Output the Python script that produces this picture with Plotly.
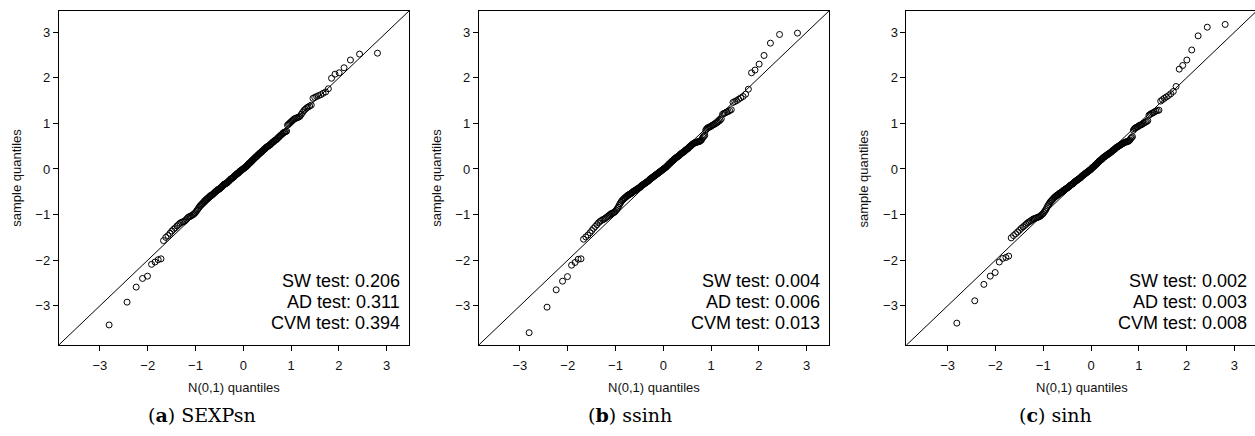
import plotly.graph_objects as go

# ---------------- data ----------------
# theoretical N(0,1) quantiles (n = 200), shared by all three panels
n01_quantiles = [
    -2.807, -2.432, -2.241, -2.108, -2.005, -1.919, -1.846, -1.780, -1.722, -1.669,
    -1.621, -1.576, -1.534, -1.495, -1.458, -1.422, -1.388, -1.356, -1.326, -1.296,
    -1.267, -1.240, -1.213, -1.188, -1.163, -1.139, -1.115, -1.092, -1.069, -1.047,
    -1.026, -1.005, -0.984, -0.964, -0.944, -0.925, -0.906, -0.887, -0.868, -0.850,
    -0.832, -0.815, -0.798, -0.780, -0.764, -0.747, -0.731, -0.714, -0.698, -0.683,
    -0.667, -0.651, -0.636, -0.621, -0.606, -0.590, -0.576, -0.561, -0.546, -0.532,
    -0.517, -0.503, -0.489, -0.475, -0.461, -0.447, -0.433, -0.419, -0.405, -0.392,
    -0.378, -0.365, -0.351, -0.338, -0.324, -0.311, -0.298, -0.285, -0.272, -0.259,
    -0.246, -0.233, -0.220, -0.207, -0.195, -0.182, -0.169, -0.157, -0.144, -0.132,
    -0.119, -0.107, -0.094, -0.082, -0.069, -0.056, -0.044, -0.031, -0.019, -0.006,
    0.006, 0.019, 0.031, 0.044, 0.056, 0.069, 0.082, 0.094, 0.107, 0.119,
    0.132, 0.144, 0.157, 0.169, 0.182, 0.195, 0.207, 0.220, 0.233, 0.246,
    0.259, 0.272, 0.285, 0.298, 0.311, 0.324, 0.338, 0.351, 0.365, 0.378,
    0.392, 0.405, 0.419, 0.433, 0.447, 0.461, 0.475, 0.489, 0.503, 0.517,
    0.532, 0.546, 0.561, 0.576, 0.590, 0.606, 0.621, 0.636, 0.651, 0.667,
    0.683, 0.698, 0.714, 0.731, 0.747, 0.764, 0.780, 0.798, 0.815, 0.832,
    0.850, 0.868, 0.887, 0.906, 0.925, 0.944, 0.964, 0.984, 1.005, 1.026,
    1.047, 1.069, 1.092, 1.115, 1.139, 1.163, 1.188, 1.213, 1.240, 1.267,
    1.296, 1.326, 1.356, 1.388, 1.422, 1.458, 1.495, 1.534, 1.576, 1.621,
    1.669, 1.722, 1.780, 1.846, 1.919, 2.005, 2.108, 2.241, 2.432, 2.807,
]

sexpsn_sample = [
    -3.42, -2.92, -2.59, -2.40, -2.35, -2.09, -2.04, -1.99, -1.97, -1.57,
    -1.50, -1.46, -1.41, -1.36, -1.32, -1.29, -1.25, -1.22, -1.19, -1.17,
    -1.16, -1.15, -1.13, -1.10, -1.07, -1.05, -1.04, -1.03, -1.01, -1.00,
    -0.98, -0.96, -0.93, -0.90, -0.87, -0.84, -0.81, -0.79, -0.77, -0.75,
    -0.73, -0.71, -0.69, -0.67, -0.66, -0.64, -0.63, -0.61, -0.60, -0.58,
    -0.58, -0.57, -0.55, -0.54, -0.52, -0.51, -0.49, -0.48, -0.47, -0.45,
    -0.45, -0.44, -0.43, -0.41, -0.40, -0.39, -0.37, -0.36, -0.34, -0.33,
    -0.33, -0.32, -0.31, -0.30, -0.29, -0.27, -0.26, -0.25, -0.23, -0.22,
    -0.21, -0.20, -0.19, -0.18, -0.17, -0.15, -0.14, -0.13, -0.12, -0.10,
    -0.10, -0.09, -0.08, -0.06, -0.05, -0.04, -0.03, -0.02, -0.01, 0.00,
    0.01, 0.02, 0.03, 0.04, 0.05, 0.06, 0.08, 0.09, 0.10, 0.12,
    0.13, 0.14, 0.15, 0.17, 0.18, 0.19, 0.21, 0.22, 0.23, 0.25,
    0.26, 0.27, 0.28, 0.30, 0.31, 0.32, 0.34, 0.35, 0.36, 0.37,
    0.39, 0.40, 0.41, 0.43, 0.44, 0.45, 0.47, 0.48, 0.49, 0.50,
    0.51, 0.52, 0.53, 0.55, 0.56, 0.58, 0.59, 0.60, 0.62, 0.63,
    0.64, 0.65, 0.67, 0.69, 0.70, 0.72, 0.74, 0.75, 0.77, 0.79,
    0.80, 0.81, 0.82, 0.83, 0.96, 0.98, 1.00, 1.02, 1.04, 1.06,
    1.08, 1.10, 1.11, 1.12, 1.13, 1.14, 1.16, 1.20, 1.24, 1.28,
    1.31, 1.34, 1.36, 1.38, 1.40, 1.55, 1.57, 1.59, 1.61, 1.63,
    1.66, 1.69, 1.76, 1.99, 2.08, 2.11, 2.22, 2.39, 2.52, 2.54,
]

ssinh_sample = [
    -3.59, -3.03, -2.65, -2.46, -2.36, -2.11, -2.05, -1.98, -1.97, -1.54,
    -1.49, -1.45, -1.40, -1.35, -1.30, -1.26, -1.22, -1.18, -1.15, -1.13,
    -1.11, -1.10, -1.08, -1.06, -1.04, -1.02, -1.00, -0.98, -0.97, -0.96,
    -0.95, -0.93, -0.90, -0.87, -0.84, -0.80, -0.76, -0.73, -0.70, -0.68,
    -0.66, -0.64, -0.63, -0.61, -0.60, -0.58, -0.57, -0.56, -0.55, -0.54,
    -0.53, -0.52, -0.50, -0.49, -0.48, -0.47, -0.46, -0.45, -0.44, -0.43,
    -0.42, -0.41, -0.40, -0.39, -0.37, -0.36, -0.35, -0.34, -0.33, -0.32,
    -0.31, -0.30, -0.29, -0.28, -0.27, -0.26, -0.25, -0.23, -0.22, -0.21,
    -0.20, -0.19, -0.18, -0.17, -0.16, -0.15, -0.14, -0.13, -0.12, -0.11,
    -0.10, -0.09, -0.08, -0.07, -0.06, -0.05, -0.04, -0.03, -0.02, -0.01,
    0.00, 0.01, 0.02, 0.03, 0.04, 0.05, 0.07, 0.08, 0.09, 0.11,
    0.12, 0.13, 0.14, 0.16, 0.17, 0.18, 0.19, 0.20, 0.22, 0.23,
    0.24, 0.25, 0.26, 0.27, 0.28, 0.29, 0.30, 0.32, 0.33, 0.34,
    0.35, 0.36, 0.37, 0.38, 0.39, 0.41, 0.42, 0.43, 0.44, 0.45,
    0.47, 0.48, 0.50, 0.51, 0.52, 0.54, 0.55, 0.56, 0.57, 0.58,
    0.58, 0.59, 0.59, 0.60, 0.60, 0.61, 0.62, 0.64, 0.67, 0.70,
    0.72, 0.74, 0.85, 0.88, 0.90, 0.91, 0.92, 0.93, 0.94, 0.96,
    0.97, 0.98, 1.00, 1.01, 1.03, 1.05, 1.07, 1.10, 1.20, 1.22,
    1.23, 1.25, 1.26, 1.28, 1.30, 1.46, 1.48, 1.50, 1.53, 1.56,
    1.59, 1.64, 1.75, 2.11, 2.17, 2.30, 2.49, 2.76, 2.95, 2.98,
]

sinh_sample = [
    -3.38, -2.89, -2.53, -2.35, -2.27, -2.04, -1.96, -1.94, -1.91, -1.51,
    -1.46, -1.42, -1.38, -1.34, -1.30, -1.27, -1.24, -1.21, -1.18, -1.16,
    -1.14, -1.12, -1.10, -1.09, -1.08, -1.07, -1.06, -1.05, -1.04, -1.02,
    -1.00, -0.98, -0.95, -0.92, -0.89, -0.85, -0.81, -0.78, -0.75, -0.72,
    -0.70, -0.68, -0.66, -0.64, -0.62, -0.61, -0.59, -0.58, -0.57, -0.56,
    -0.54, -0.53, -0.52, -0.51, -0.50, -0.49, -0.47, -0.46, -0.45, -0.44,
    -0.43, -0.42, -0.41, -0.40, -0.39, -0.37, -0.36, -0.35, -0.34, -0.33,
    -0.32, -0.31, -0.29, -0.28, -0.27, -0.26, -0.25, -0.24, -0.23, -0.22,
    -0.21, -0.20, -0.19, -0.18, -0.16, -0.15, -0.14, -0.13, -0.12, -0.11,
    -0.10, -0.09, -0.08, -0.07, -0.06, -0.05, -0.04, -0.03, -0.02, -0.01,
    0.00, 0.02, 0.03, 0.04, 0.05, 0.06, 0.08, 0.09, 0.10, 0.11,
    0.13, 0.14, 0.15, 0.17, 0.18, 0.19, 0.20, 0.21, 0.22, 0.24,
    0.25, 0.26, 0.27, 0.28, 0.29, 0.30, 0.31, 0.32, 0.33, 0.34,
    0.35, 0.36, 0.37, 0.38, 0.40, 0.41, 0.42, 0.43, 0.44, 0.46,
    0.47, 0.48, 0.49, 0.50, 0.51, 0.52, 0.53, 0.54, 0.55, 0.56,
    0.57, 0.58, 0.59, 0.59, 0.60, 0.60, 0.61, 0.62, 0.64, 0.67,
    0.69, 0.71, 0.85, 0.88, 0.90, 0.91, 0.92, 0.93, 0.95, 0.96,
    0.97, 0.98, 1.00, 1.01, 1.03, 1.04, 1.06, 1.18, 1.20, 1.22,
    1.23, 1.25, 1.27, 1.28, 1.29, 1.49, 1.52, 1.55, 1.58, 1.61,
    1.65, 1.70, 1.81, 2.19, 2.27, 2.39, 2.61, 2.92, 3.11, 3.17,
]

panel_letters = ["a", "b", "c"]
panel_names = ["SEXPsn", "ssinh", "sinh"]
test_names = ["SW test", "AD test", "CVM test"]
sexpsn_pvalues = ["0.206", "0.311", "0.394"]
ssinh_pvalues = ["0.004", "0.006", "0.013"]
sinh_pvalues = ["0.002", "0.003", "0.008"]
tick_values = [-3, -2, -1, 0, 1, 2, 3]

samples = [sexpsn_sample, ssinh_sample, sinh_sample]
pvalues = [sexpsn_pvalues, ssinh_pvalues, sinh_pvalues]

# ---------------- geometry (pixels) ----------------
W, H = 1255, 436
zero_px = [243.3, 663.3, 1091.0]     # x pixel of value 0 in each panel
caption_center_px = [202, 630, 1055]
unit_x = 47.8                          # px per unit on x
y_zero_px, unit_y = 169.0, 45.6        # px of y=0 and px per unit on y
lo, hi = -3.86, 3.47

SANS = "Liberation Sans, Arial, Helvetica, sans-serif"
SERIF = "DejaVu Serif, serif"

fig = go.Figure()
layout = dict(
    width=W, height=H, margin=dict(l=0, r=0, t=0, b=0),
    paper_bgcolor="white", plot_bgcolor="white", showlegend=False,
    annotations=[],
)

y_dom = [1 - (y_zero_px - lo * unit_y) / H, 1 - (y_zero_px - hi * unit_y) / H]

for k in range(3):
    sfx = "" if k == 0 else str(k + 1)
    left_px = zero_px[k] + lo * unit_x
    right_px = min(zero_px[k] + hi * unit_x, W)
    x_hi = (right_px - zero_px[k]) / unit_x
    axis_common = dict(
        showgrid=False, zeroline=False, showline=True, mirror=True,
        linecolor="black", linewidth=1, ticks="outside", ticklen=5,
        tickwidth=1, tickcolor="black", tickvals=tick_values,
        tickfont=dict(family=SANS, size=13, color="#111"),
    )
    layout["xaxis" + sfx] = dict(axis_common, range=[lo, x_hi],
                                 domain=[left_px / W, right_px / W],
                                 anchor="y" + sfx, ticklabelstandoff=3)
    layout["yaxis" + sfx] = dict(axis_common, range=[lo, hi], domain=y_dom,
                                 anchor="x" + sfx)

    xa, ya = "x" + sfx, "y" + sfx
    # reference line y = x
    fig.add_trace(go.Scatter(x=[-10, 10], y=[-10, 10], mode="lines",
                             line=dict(color="black", width=1),
                             xaxis=xa, yaxis=ya, hoverinfo="skip"))
    fig.add_trace(go.Scatter(x=n01_quantiles, y=samples[k], mode="markers",
                             marker=dict(symbol="circle-open", size=6,
                                         color="black", line=dict(width=1)),
                             xaxis=xa, yaxis=ya))

    # statistics
    for j, (name, pv) in enumerate(zip(test_names, pvalues[k])):
        ypx = 281 + 21 * j
        layout["annotations"].append(dict(
            text=f"{name}: {pv}", xref=xa, yref="paper",
            x=3.31, y=1 - ypx / H, xanchor="right", yanchor="middle",
            showarrow=False, font=dict(family=SANS, size=18, color="black")))

    center_px = (left_px + (zero_px[k] + hi * unit_x)) / 2
    # x-axis title
    layout["annotations"].append(dict(
        text="N(0,1) quantiles", xref="paper", yref="paper",
        x=center_px / W, y=1 - 387 / H, xanchor="center", yanchor="middle",
        showarrow=False, font=dict(family=SANS, size=13, color="#111")))
    # y-axis title
    layout["annotations"].append(dict(
        text="sample quantiles", xref="paper", yref="paper",
        x=(left_px - 43) / W, y=1 - 178 / H, xanchor="center", yanchor="middle",
        textangle=-90, showarrow=False,
        font=dict(family=SANS, size=13, color="#111")))
    # caption
    layout["annotations"].append(dict(
        text=f"(<b>{panel_letters[k]}</b>) {panel_names[k]}", xref="paper", yref="paper",
        x=caption_center_px[k] / W, y=1 - 415 / H, xanchor="center", yanchor="middle",
        showarrow=False, font=dict(family=SERIF, size=19, color="black")))

fig.update_layout(**layout)
fig.write_html("out.html", config={"displayModeBar": False})
